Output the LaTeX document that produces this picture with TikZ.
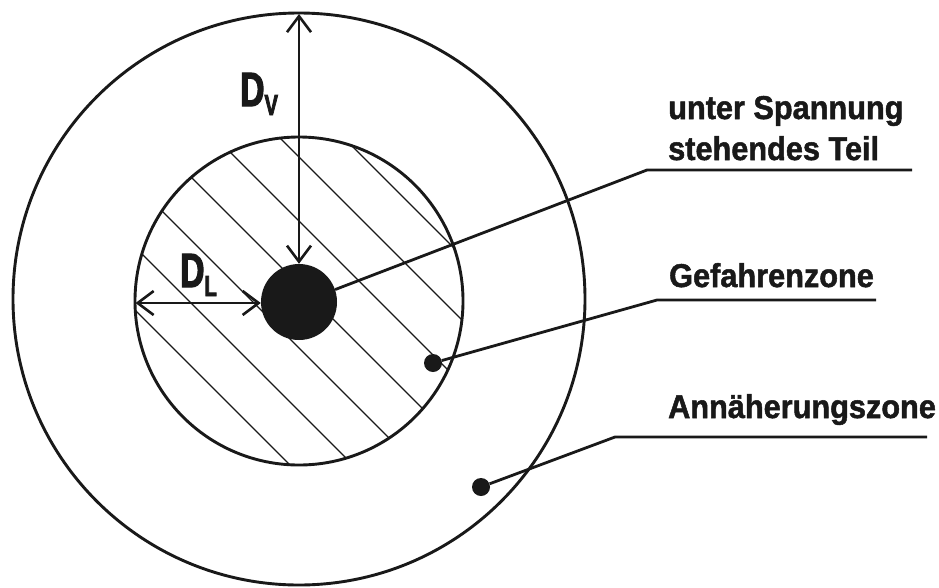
\documentclass[tikz,border=0pt]{standalone}
\usepackage{fontspec}
\setmainfont{Liberation Sans}
\newfontfamily\lblfont{Liberation Sans}[FakeStretch=0.93,FakeBold=1.5]
\newfontfamily\dimfont{Liberation Sans}[FakeStretch=0.7,FakeBold=2.5]
\usetikzlibrary{arrows.meta}
\begin{document}
\begin{tikzpicture}[x=1pt,y=-1pt,
  ring/.style={draw=black!90, line width=2.9pt},
  hatchline/.style={draw=black!90, line width=1.3pt},
  dimarrow/.style={draw=black!90, line width=2.6pt, {Straight Barb[length=16pt,width=24pt]}-{Straight Barb[length=16pt,width=24pt]}},
  leader/.style={draw=black!90, line width=2.8pt, line join=miter},
  lbl/.style={inner sep=0pt, font=\lblfont\bfseries\fontsize{33}{40}\selectfont, text=black!90},
  dimlbl/.style={inner sep=0pt, font=\dimfont\bfseries\fontsize{48}{48}\selectfont, text=black!90},
  pointdot/.style={circle, fill=black!90, inner sep=0pt, minimum size=18pt}
]
\useasboundingbox (0,0) rectangle (939,587);
% circles
\node[circle, inner sep=0pt, minimum size=572pt, ring] (outer) at (299,299) {};
\begin{scope}
  \clip (299,301) circle (164);
  \foreach \c in {-175,-112,-49,14,78,142,206}
    \draw[hatchline] ({\c+60},60) -- ({\c+560},560);
\end{scope}
\node[circle, inner sep=0pt, minimum size=328pt, ring] (inner) at (299,301) {};
\node[circle, fill=black!90, inner sep=0pt, minimum size=76pt] (part) at (299,302) {};
% dimension arrows
\coordinate (vtop) at (299,14);
\coordinate (hleft) at (135.5,303);
\draw[dimarrow] (vtop) -- (part.north);
\draw[dimarrow] (hleft) -- (part.west |- hleft);
\node[dimlbl, anchor=base west] (dv) at (240,106) {D\raisebox{-9pt}{\fontsize{29}{29}\selectfont V}};
\node[dimlbl, anchor=base west] (dl) at (180,287) {D\raisebox{-9pt}{\fontsize{29}{29}\selectfont L}};
% labels
\node[lbl, anchor=base west] (t1a) at (668,119) {unter Spannung};
\node[lbl, anchor=base west] (t1b) at (668,160) {stehendes Teil};
\node[lbl, anchor=base west] (t2) at (669,287) {Gefahrenzone};
\node[lbl, anchor=base west] (t3) at (668,418) {Annäherungszone};
% leaders
\coordinate (k1) at (647,170);
\coordinate (e1) at (912,170);
\draw[leader] (part.19) -- (k1) -- (e1);
\node[pointdot] (d2) at (433,363) {};
\coordinate (k2) at (657,300);
\coordinate (e2) at (876,300);
\draw[leader] (d2) -- (k2) -- (e2);
\node[pointdot] (d3) at (481,487) {};
\coordinate (k3) at (615,437);
\coordinate (e3) at (927,437);
\draw[leader] (d3) -- (k3) -- (e3);
\end{tikzpicture}
\end{document}
